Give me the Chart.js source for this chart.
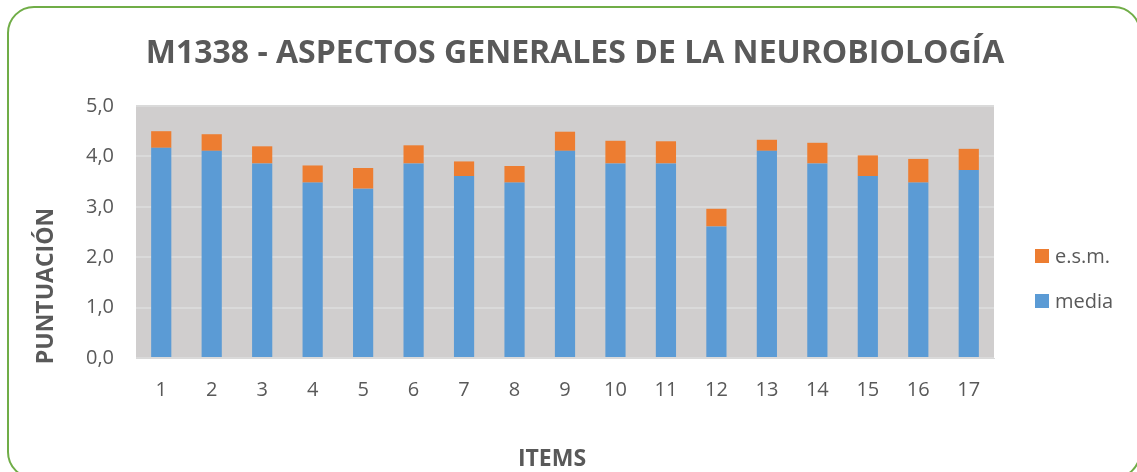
<!DOCTYPE html>
<html>
<head>
<meta charset="utf-8">
<script src="https://cdn.jsdelivr.net/npm/chart.js@4"></script>
<style>
html,body{margin:0;padding:0;background:#fff;}
#wrap{width:1137px;height:472px;position:relative;}
</style>
</head>
<body>
<div id="wrap"><canvas id="c" width="1137" height="472"></canvas></div>
<script>
const titleText = 'M1338 - ASPECTOS GENERALES DE LA NEUROBIOLOGÍA';
const yAxisTitle = 'PUNTUACIÓN';
const xAxisTitle = 'ITEMS';
const categories = ['1','2','3','4','5','6','7','8','9','10','11','12','13','14','15','16','17'];
const media = [4.17,4.11,3.86,3.48,3.36,3.86,3.61,3.48,4.11,3.86,3.86,2.61,4.11,3.86,3.61,3.48,3.73];
const esm   = [0.33,0.33,0.34,0.34,0.41,0.36,0.29,0.33,0.38,0.45,0.44,0.35,0.22,0.41,0.41,0.47,0.42];
const yTickLabels = ['0,0','1,0','2,0','3,0','4,0','5,0'];

const TXT = '#595959';
const FONT = '"Open Sans", "DejaVu Sans", sans-serif';

const decor = {
  id: 'decor',
  beforeDraw(chart) {
    const ctx = chart.ctx;
    ctx.save();
    ctx.fillStyle = '#ffffff';
    ctx.fillRect(0, 0, chart.width, chart.height);
    // rounded green frame
    const x = 8, y = 7, w = 1140 - 8, h = 478 - 7, r = 26;
    ctx.beginPath();
    ctx.moveTo(x + r, y);
    ctx.lineTo(x + w - r, y);
    ctx.arcTo(x + w, y, x + w, y + r, r);
    ctx.lineTo(x + w, y + h - r);
    ctx.arcTo(x + w, y + h, x + w - r, y + h, r);
    ctx.lineTo(x + r, y + h);
    ctx.arcTo(x, y + h, x, y + h - r, r);
    ctx.lineTo(x, y + r);
    ctx.arcTo(x, y, x + r, y, r);
    ctx.closePath();
    ctx.strokeStyle = '#70AD47';
    ctx.lineWidth = 2;
    ctx.stroke();
    // plot background
    const a = chart.chartArea;
    ctx.fillStyle = '#D0CECE';
    ctx.fillRect(a.left, a.top, a.right - a.left, a.bottom - a.top);
    ctx.restore();
  },
  afterDraw(chart) {
    const ctx = chart.ctx;
    ctx.save();
    ctx.fillStyle = TXT;
    // title
    ctx.font = 'bold 32px ' + FONT;
    ctx.textAlign = 'center';
    ctx.textBaseline = 'alphabetic';
    ctx.fillText(titleText, 575, 63);
    // x axis title
    ctx.font = 'bold 23px ' + FONT;
    ctx.fillText(xAxisTitle, 552, 466);
    // y axis title
    ctx.save();
    ctx.translate(53, 286);
    ctx.rotate(-Math.PI / 2);
    ctx.fillText(yAxisTitle, 0, 0);
    ctx.restore();
    // legend
    const ds = chart.data.datasets;
    const items = [ds[1], ds[0]];
    const ys = [249, 294];
    ctx.font = '20px ' + FONT;
    ctx.textAlign = 'left';
    items.forEach((d, i) => {
      ctx.fillStyle = d.backgroundColor;
      ctx.fillRect(1035, ys[i], 14, 14);
      ctx.fillStyle = TXT;
      ctx.fillText(d.label, 1055, ys[i] + 14);
    });
    ctx.restore();
  }
};

new Chart(document.getElementById('c'), {
  type: 'bar',
  data: {
    labels: categories,
    datasets: [
      { label: 'media', data: media, backgroundColor: '#5B9BD5', borderWidth: 0,
        barPercentage: 0.4, categoryPercentage: 1.0 },
      { label: 'e.s.m.', data: esm, backgroundColor: '#ED7D31', borderWidth: 0,
        barPercentage: 0.4, categoryPercentage: 1.0 }
    ]
  },
  options: {
    responsive: false,
    animation: false,
    devicePixelRatio: 1,
    layout: { padding: { left: 0, top: 106, right: 143, bottom: 0 } },
    plugins: { legend: { display: false }, title: { display: false }, tooltip: { enabled: false } },
    scales: {
      x: {
        stacked: true,
        afterFit(s) { s.height = 472 - 358 - 0; },
        grid: { display: false, drawTicks: false },
        border: { display: true, color: '#D9D9D9', width: 1 },
        ticks: { color: TXT, font: { family: FONT, size: 20 }, padding: 20, maxRotation: 0 }
      },
      y: {
        stacked: true,
        min: 0, max: 5,
        afterFit(s) { s.width = 136; },
        grid: { color: '#DADADA', lineWidth: 2, drawTicks: false },
        border: { display: false },
        ticks: {
          stepSize: 1, color: TXT, font: { family: FONT, size: 20 }, padding: 22,
          callback: (v, i) => yTickLabels[i]
        }
      }
    }
  },
  plugins: [decor]
});
</script>
</body>
</html>
